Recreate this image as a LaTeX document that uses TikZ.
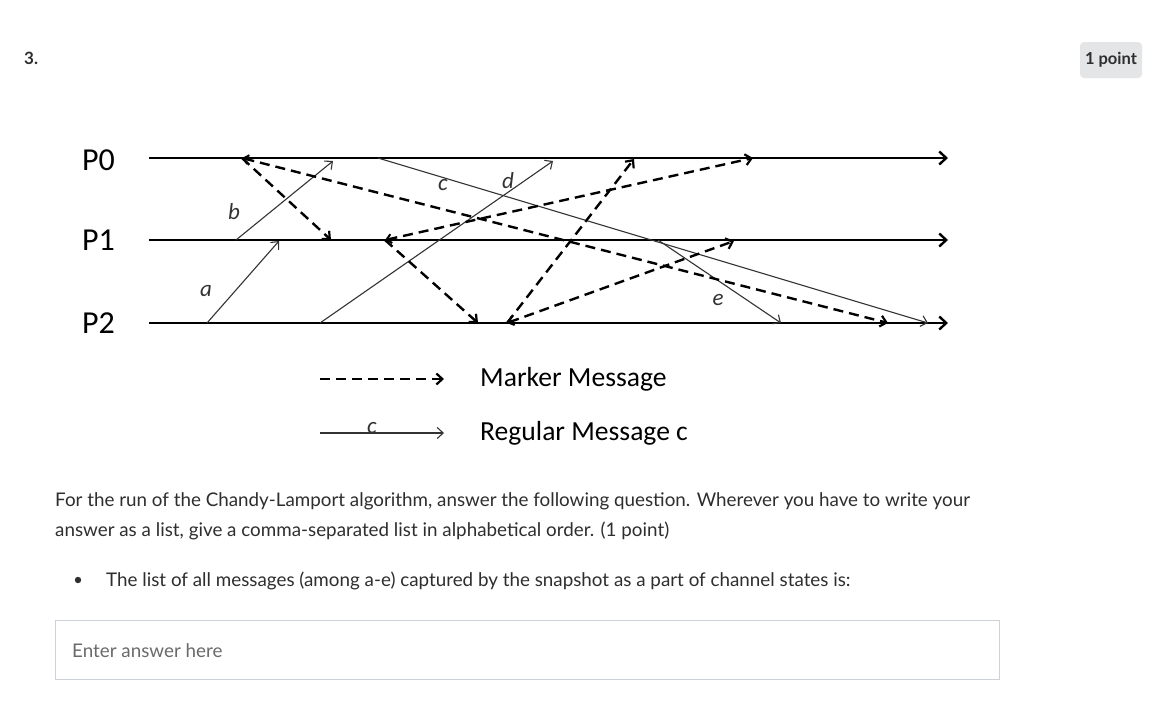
\documentclass[tikz,border=0pt]{standalone}
\usepackage{fontspec}
\setmainfont{Carlito}
\newfontfamily\webfont{Lato}
\usetikzlibrary{arrows.meta}
\definecolor{txt}{HTML}{2E2E2E}
\definecolor{msg}{HTML}{333333}
\definecolor{badge}{HTML}{E4E5E7}
\definecolor{boxline}{HTML}{CDD1D8}
\definecolor{ph}{HTML}{6A6A6A}
\tikzset{
  proc/.style={line width=2.8pt, -{Straight Barb[length=7pt,width=13pt,line width=2.4pt]}},
  regmsg/.style={line width=1.1pt, draw=msg, -{Straight Barb[length=6pt,width=11pt,line width=1.1pt]}},
  marker/.style={line width=2.4pt, dash pattern=on 10pt off 6pt, -{Straight Barb[length=6pt,width=11pt,line width=2.2pt]}},
  markerboth/.style={line width=2.4pt, dash pattern=on 10pt off 6pt, {Straight Barb[length=5pt,width=9pt,line width=2pt]}-{Straight Barb[length=6pt,width=11pt,line width=2.2pt]}},
  plabel/.style={anchor=west, inner sep=0pt, font=\fontsize{32}{36}\selectfont},
  mlabel/.style={inner sep=0pt, font=\fontsize{23}{25}\selectfont\itshape, text=msg},
  legtext/.style={anchor=west, inner sep=0pt, font=\fontsize{27.6}{31}\selectfont},
  webtext/.style={anchor=base west, inner sep=0pt, text=txt, font=\webfont\fontsize{18.8}{22}\selectfont},
}
\begin{document}
\begin{tikzpicture}[x=1pt,y=-1pt]
\useasboundingbox (0,0) rectangle (1165,705);
\fill[white] (0,0) rectangle (1165,705);

% header
\node[anchor=base west, inner sep=0pt, text=txt, font=\webfont\bfseries\fontsize{17}{20}\selectfont] (num) at (24,64) {3.};
\node[fill=badge, rounded corners=4pt, minimum width=62pt, minimum height=36pt, inner sep=0pt,
      text=txt, font=\webfont\bfseries\fontsize{16.5}{19}\selectfont] (pts) at (1111,60) {1 point};

% process labels
\node[plabel] (lp0) at (82,160) {P0};
\node[plabel] (lp1) at (82,240) {P1};
\node[plabel] (lp2) at (82,323) {P2};

% process lines
\coordinate (p0s) at (149,158); \coordinate (p0e) at (948,158);
\coordinate (p1s) at (149,240); \coordinate (p1e) at (948,240);
\coordinate (p2s) at (149,323); \coordinate (p2e) at (948,323);
\draw[proc] (p0s) -- (p0e);
\draw[proc] (p1s) -- (p1e);
\draw[proc] (p2s) -- (p2e);

% event points
\coordinate (a1) at (207,323); \coordinate (a2) at (279,241);
\coordinate (b1) at (236,240); \coordinate (b2) at (333,161);
\coordinate (c1) at (378,158); \coordinate (c2) at (928,323);
\coordinate (d1) at (320,323); \coordinate (d2) at (553,161);
\coordinate (e1) at (658,240); \coordinate (e2) at (781,323);

\coordinate (m0) at (242,158);
\coordinate (m1e) at (331,240);
\coordinate (m2e) at (888,323);
\coordinate (q1) at (385,240); \coordinate (q2) at (753,158);
\coordinate (q3) at (478,323);
\coordinate (r1) at (507,323); \coordinate (r2) at (634,159);
\coordinate (r3) at (734,241);

% regular messages
\draw[regmsg] (a1) -- (a2);
\draw[regmsg] (b1) -- (b2);
\draw[regmsg] (c1) -- (c2);
\draw[regmsg] (d1) -- (d2);
\draw[regmsg] (e1) -- (e2);

% marker messages
\draw[marker] (m0) -- (m1e);
\draw[markerboth] (m0) -- (m2e);
\draw[markerboth] (q1) -- (q2);
\draw[marker] (q1) -- (q3);
\draw[marker] (r1) -- (r2);
\draw[markerboth] (r1) -- (r3);

% message labels
\node[mlabel] (la) at (206,291) {a};
\node[mlabel] (lb) at (234,212) {b};
\node[mlabel] (lc) at (443,185) {c};
\node[mlabel] (ld) at (508,181) {d};
\node[mlabel] (le) at (718,300) {e};

% legend
\coordinate (lg1s) at (320,379); \coordinate (lg1e) at (444,379);
\coordinate (lg2s) at (320,433); \coordinate (lg2e) at (444,433);
\draw[marker] (lg1s) -- (lg1e);
\draw[regmsg] (lg2s) -- (lg2e);
\node[mlabel] (lgc) at (372,428) {c};
\node[legtext] (lgt1) at (480,379) {Marker Message};
\node[legtext] (lgt2) at (480,433) {Regular Message c};

% question text
\node[webtext] (q1t) at (55,506) {For the run of the Chandy-Lamport algorithm, answer the following question. Wherever you have to write your};
\node[webtext] (q2t) at (55,536) {answer as a list, give a comma-separated list in alphabetical order. (1 point)};
\fill[txt] (78,580) circle (3.2pt);
\node[webtext] (q3t) at (106,586) {The list of all messages (among a-e) captured by the snapshot as a part of channel states is:};

% answer box
\draw[boxline, line width=1pt] (55.5,620.5) rectangle (999.5,679.5);
\node[webtext, text=ph] (ans) at (72,657) {Enter answer here};
\end{tikzpicture}
\end{document}
